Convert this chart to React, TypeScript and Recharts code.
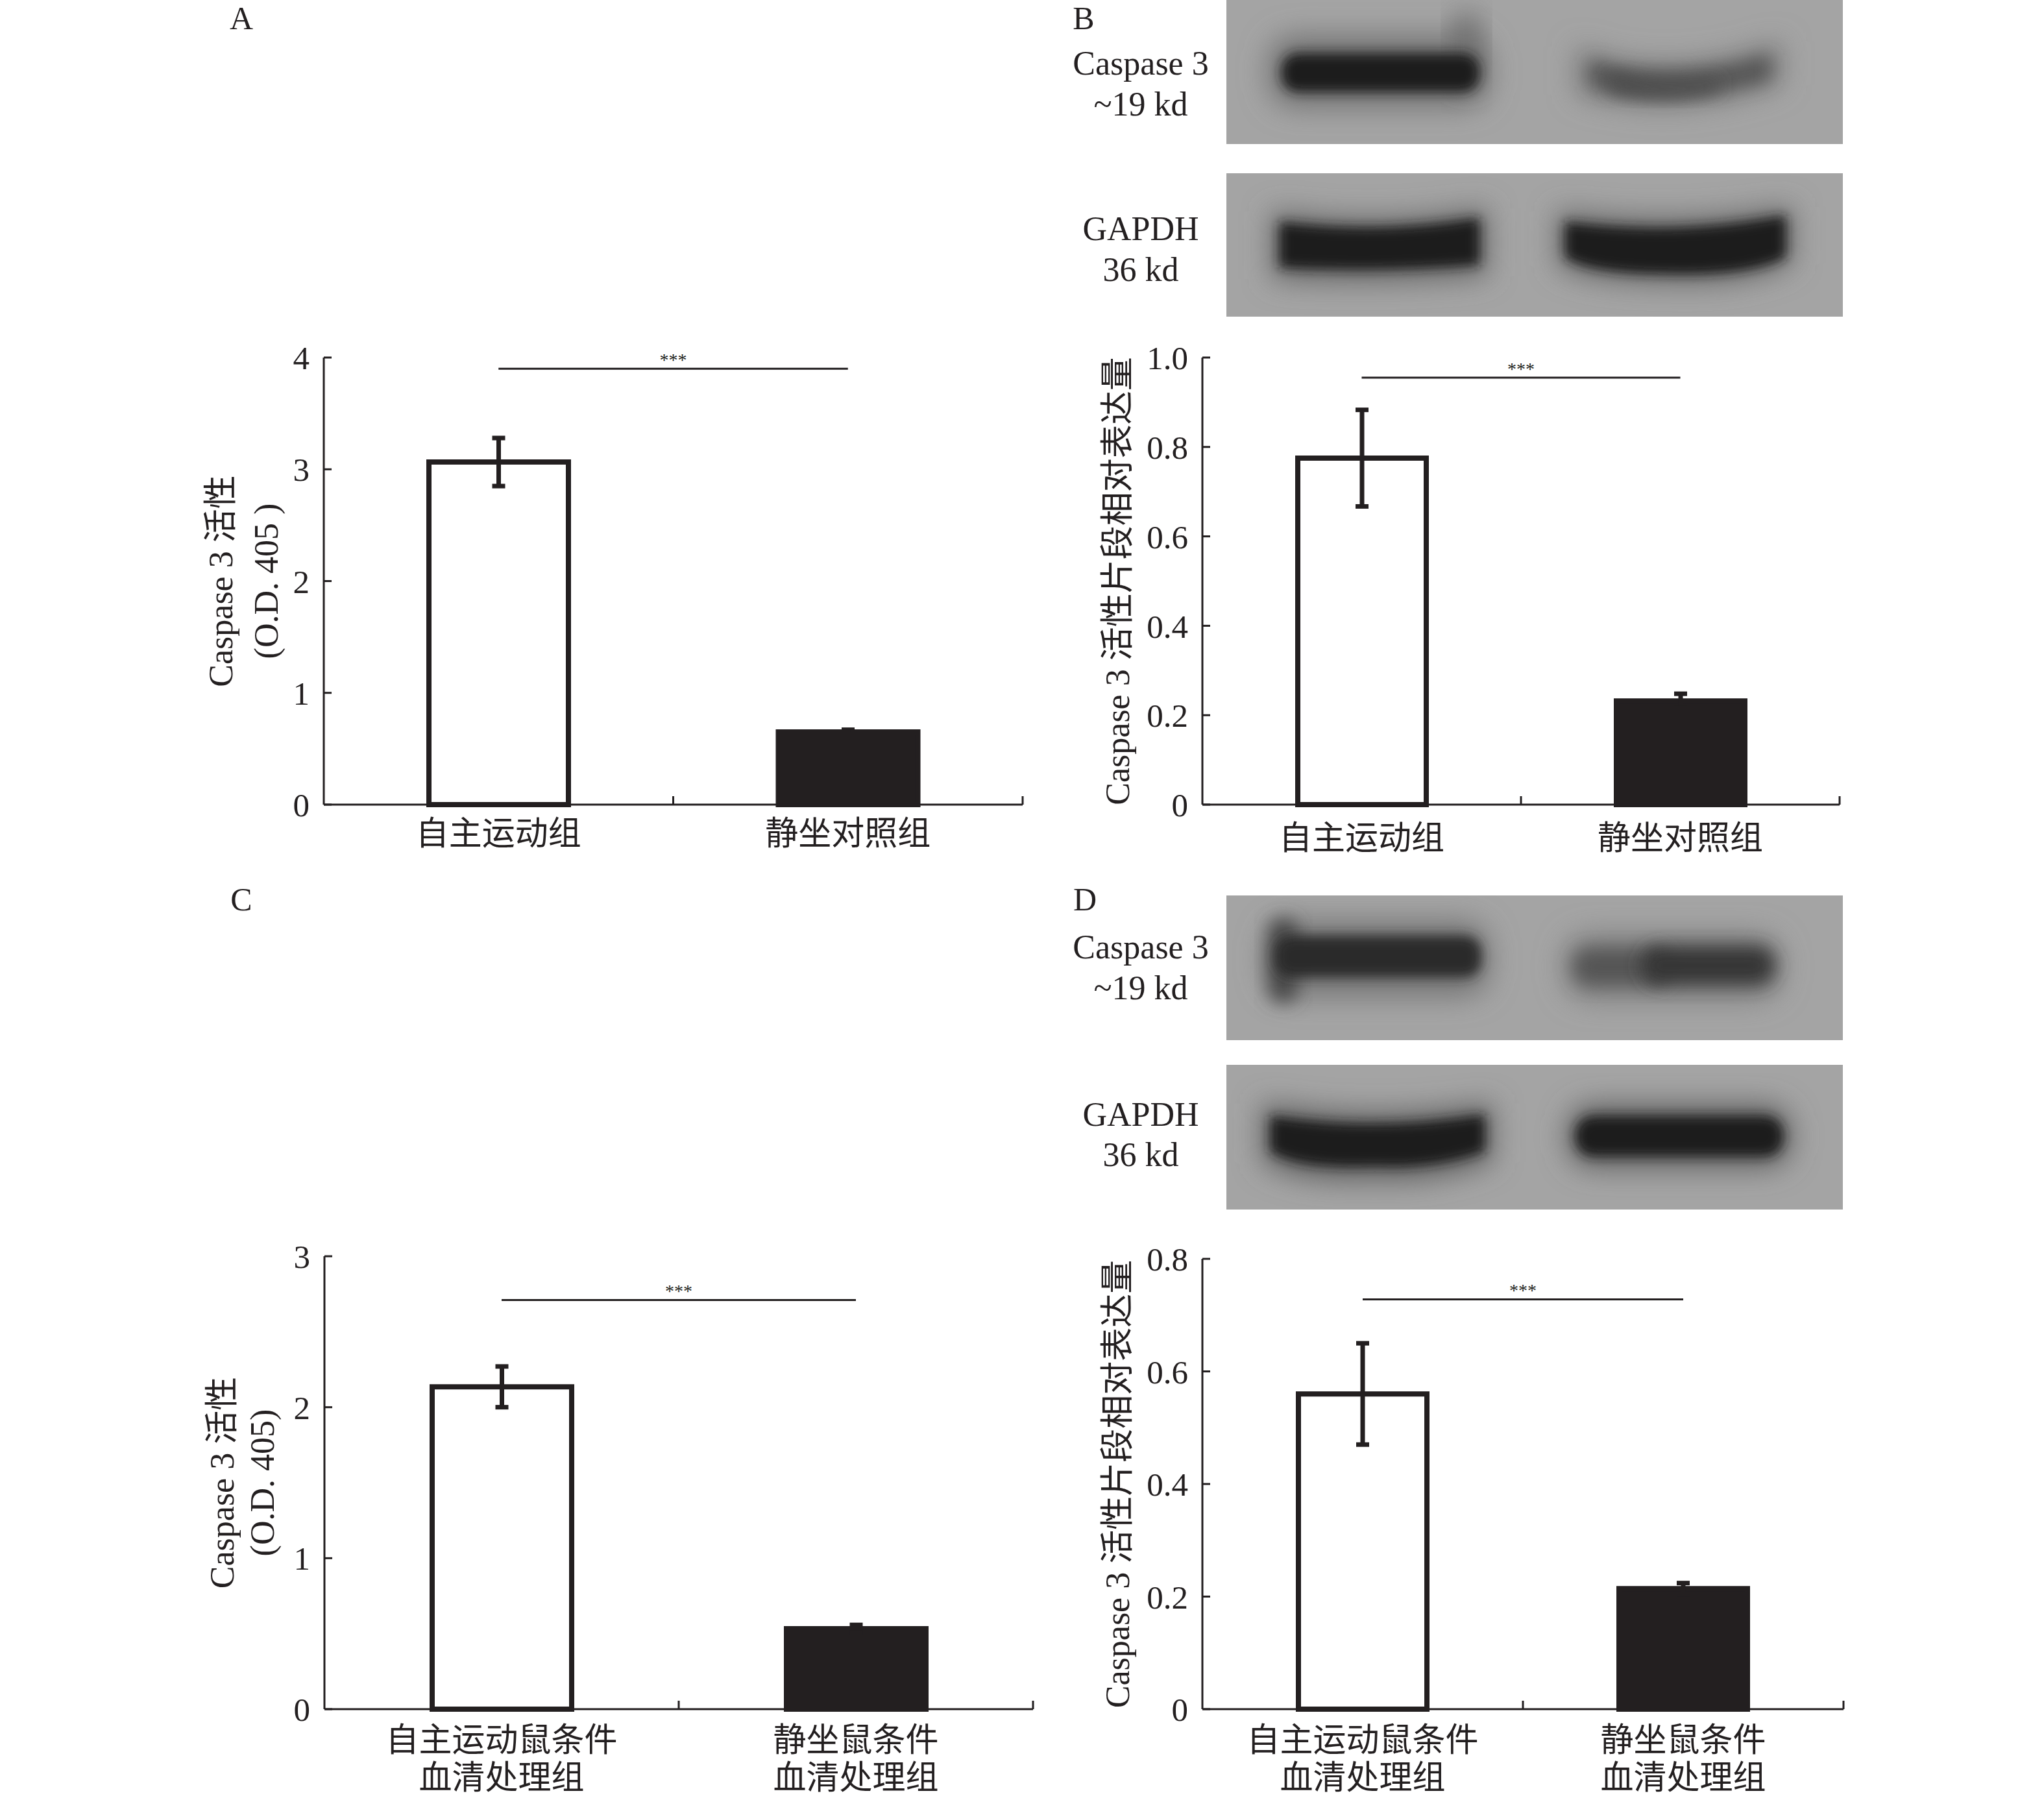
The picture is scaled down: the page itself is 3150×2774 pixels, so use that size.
import React from "react";
import { BarChart, Bar, XAxis, YAxis, ErrorBar, Cell, ReferenceLine } from "recharts";

const INK = "#231f20";
const SERIF = '"Liberation Serif", "Times New Roman", "Noto Sans CJK SC", serif';

// panel A: caspase 3 activity, exercise vs sedentary
const groupsA = ["自主运动组", "静坐对照组"];
const activityA = [3.065, 0.65];
const activityErrA = [0.215, 0.02];
const ticksA = [0, 1, 2, 3, 4];
const sigA = 3.9;

// panel B: western blot quantification
const groupsB = ["自主运动组", "静坐对照组"];
const expressionB = [0.775, 0.232];
const expressionErrB = [0.108, 0.016];
const ticksB = [0, 0.2, 0.4, 0.6, 0.8, 1.0];
const sigB = 0.955;

// panel C: serum-treated cells, activity
const groupsC = ["自主运动鼠条件\n血清处理组", "静坐鼠条件\n血清处理组"];
const activityC = [2.135, 0.533];
const activityErrC = [0.135, 0.025];
const ticksC = [0, 1, 2, 3];
const sigC = 2.71;

// panel D: serum-treated cells, blot quantification
const groupsD = ["自主运动鼠条件\n血清处理组", "静坐鼠条件\n血清处理组"];
const expressionD = [0.56, 0.214];
const expressionErrD = [0.09, 0.01];
const ticksD = [0, 0.2, 0.4, 0.6, 0.8];
const sigD = 0.728;

const barFills = ["#ffffff", INK];

const toRows = (groups: string[], values: number[], errs: number[]) =>
  groups.map((group, i) => ({ group, value: values[i], err: errs[i] }));

const intFmt = (v: number) => String(v);
const decFmt = (v: number) => (v === 0 ? "0" : v.toFixed(1));

function CategoryTick(props: any) {
  const { x, y, payload, dy } = props;
  const lines = String(payload.value).split("\n");
  const edge = payload.offset;
  return (
    <g>
      {edge ? (
        <line x1={x + edge} x2={x + edge} y1={y} y2={y - 13} stroke={INK} strokeWidth={3} />
      ) : null}
      {lines.map((l, i) => (
        <text
          key={i}
          x={x}
          y={y + dy + i * 58}
          textAnchor="middle"
          dominantBaseline="central"
          fontSize={51}
          fontFamily={SERIF}
          fill={INK}
        >
          {l}
        </text>
      ))}
    </g>
  );
}

function AxisTitle(props: any) {
  const { viewBox, lines, xs } = props;
  if (!viewBox) return null;
  const axisX = viewBox.x + viewBox.width;
  const cy = viewBox.y + viewBox.height / 2;
  return (
    <g>
      {lines.map((l: string, i: number) => {
        const cx = axisX + xs[i];
        return (
          <text
            key={i}
            x={cx}
            y={cy}
            transform={`rotate(-90 ${cx} ${cy})`}
            textAnchor="middle"
            dominantBaseline="central"
            fontSize={52}
            fontFamily={SERIF}
            fill={INK}
          >
            {l}
          </text>
        );
      })}
    </g>
  );
}

interface PanelProps {
  rows: { group: string; value: number; err: number }[];
  ticks: number[];
  fmt: (v: number) => string;
  sig: number;
  yLabel: string[];
  labelX: number[];
  plot: { left: number; top: number; right: number; bottom: number };
  barSize: number;
  labelDy: number;
}

function Panel({ rows, ticks, fmt, sig, yLabel, labelX, plot, barSize, labelDy }: PanelProps) {
  const axisW = 200;
  const mTop = 60;
  const mRight = 40;
  const xH = 160;
  const width = plot.right - plot.left + axisW + mRight;
  const height = plot.bottom - plot.top + mTop + xH;
  return (
    <div style={{ position: "absolute", left: plot.left - axisW, top: plot.top - mTop }}>
      <BarChart
        width={width}
        height={height}
        data={rows}
        barSize={barSize}
        margin={{ top: mTop, right: mRight, bottom: 0, left: 0 }}
      >
        <XAxis
          dataKey="group"
          height={xH}
          interval={0}
          axisLine={{ stroke: INK, strokeWidth: 3 }}
          tickLine={false}
          tickSize={0}
          tickMargin={0}
          tick={<CategoryTick dy={labelDy} />}
        />
        <YAxis
          width={axisW}
          domain={[ticks[0], ticks[ticks.length - 1]]}
          ticks={ticks}
          interval={0}
          tickFormatter={fmt}
          axisLine={{ stroke: INK, strokeWidth: 3 }}
          tickLine={{ stroke: INK, strokeWidth: 3 }}
          tickSize={-12}
          tickMargin={34}
          tick={{ fill: INK, fontSize: 51, fontFamily: SERIF }}
          label={<AxisTitle lines={yLabel} xs={labelX} />}
        />
        <ReferenceLine
          segment={[
            { x: rows[0].group, y: sig },
            { x: rows[1].group, y: sig },
          ]}
          stroke={INK}
          strokeWidth={3}
          label={{ value: "***", position: "top", offset: 4, fill: INK, fontSize: 28, fontFamily: SERIF }}
        />
        <Bar dataKey="value" isAnimationActive={false} strokeWidth={8}>
          {rows.map((r, i) => (
            <Cell key={r.group} fill={barFills[i]} stroke={INK} />
          ))}
          <ErrorBar dataKey="err" direction="y" width={10} strokeWidth={7} stroke={INK} />
        </Bar>
      </BarChart>
    </div>
  );
}

function Blots() {
  const gray = "#a4a4a4";
  return (
    <svg width={3150} height={2774} style={{ position: "absolute", left: 0, top: 0 }}>
      <defs>
        <filter id="bs" x="-50%" y="-50%" width="200%" height="200%">
          <feGaussianBlur stdDeviation="9" />
        </filter>
        <filter id="bm" x="-50%" y="-50%" width="200%" height="200%">
          <feGaussianBlur stdDeviation="14" />
        </filter>
        <filter id="bl" x="-50%" y="-50%" width="200%" height="200%">
          <feGaussianBlur stdDeviation="22" />
        </filter>
        <clipPath id="c1"><rect x={1890} y={0} width={950} height={222} /></clipPath>
        <clipPath id="c2"><rect x={1890} y={267} width={950} height={221} /></clipPath>
        <clipPath id="c3"><rect x={1890} y={1380} width={950} height={223} /></clipPath>
        <clipPath id="c4"><rect x={1890} y={1641} width={950} height={223} /></clipPath>
      </defs>

      {/* B, caspase 3 */}
      <g clipPath="url(#c1)">
        <rect x={1890} y={0} width={950} height={222} fill={gray} />
        <rect x={1955} y={55} width={340} height={110} rx={40} fill="#737373" filter="url(#bl)" />
        <rect x={2240} y={20} width={40} height={110} rx={18} fill="#6a6a6a" filter="url(#bl)" />
        <rect x={1975} y={82} width={305} height={60} rx={26} fill="#1f1f1f" filter="url(#bs)" />
        <path d="M2430,70 C2500,110 2650,105 2745,62 L2745,130 C2650,160 2560,180 2430,145 Z" fill="#7c7c7c" filter="url(#bl)" />
        <path d="M2450,92 C2510,120 2640,116 2728,84 L2728,122 C2640,145 2560,162 2450,132 Z" fill="#525252" filter="url(#bm)" />
        <path d="M2480,112 C2530,130 2600,132 2650,122 L2650,138 C2600,150 2540,152 2480,140 Z" fill="#484848" filter="url(#bm)" />
      </g>

      {/* B, GAPDH */}
      <g clipPath="url(#c2)">
        <rect x={1890} y={267} width={950} height={221} fill={gray} />
        <path d="M1960,325 Q2125,350 2292,320 L2292,425 Q2125,440 1960,430 Z" fill="#686868" filter="url(#bl)" />
        <path d="M1972,342 Q2125,362 2280,336 L2280,408 Q2125,420 1972,412 Z" fill="#1c1c1c" filter="url(#bs)" />
        <path d="M2400,325 Q2580,350 2762,318 L2762,405 Q2700,440 2580,436 Q2440,436 2400,408 Z" fill="#686868" filter="url(#bl)" />
        <path d="M2412,342 Q2580,365 2752,332 L2752,396 Q2700,424 2580,422 Q2450,422 2412,396 Z" fill="#1c1c1c" filter="url(#bs)" />
      </g>

      {/* D, caspase 3 */}
      <g clipPath="url(#c3)">
        <rect x={1890} y={1380} width={950} height={223} fill={gray} />
        <rect x={1950} y={1420} width={345} height={115} rx={40} fill="#757575" filter="url(#bl)" />
        <rect x={1955} y={1415} width={45} height={130} rx={20} fill="#4a4a4a" filter="url(#bm)" />
        <rect x={1965} y={1442} width={318} height={64} rx={26} fill="#2a2a2a" filter="url(#bs)" />
        <rect x={2410} y={1440} width={335} height={100} rx={40} fill="#7e7e7e" filter="url(#bl)" />
        <rect x={2425} y={1462} width={150} height={56} rx={24} fill="#555555" filter="url(#bm)" />
        <rect x={2530} y={1458} width={205} height={60} rx={26} fill="#363636" filter="url(#bm)" />
      </g>

      {/* D, GAPDH */}
      <g clipPath="url(#c4)">
        <rect x={1890} y={1641} width={950} height={223} fill={gray} />
        <path d="M1945,1700 Q2120,1730 2300,1700 L2300,1790 Q2210,1825 2120,1818 Q2000,1825 1945,1790 Z" fill="#626262" filter="url(#bl)" />
        <path d="M1958,1720 Q2120,1745 2288,1718 L2288,1774 Q2210,1802 2120,1797 Q2000,1802 1958,1774 Z" fill="#1b1b1b" filter="url(#bs)" />
        <rect x={2415} y={1702} width={346} height={98} rx={40} fill="#626262" filter="url(#bl)" />
        <rect x={2428} y={1720} width={320} height={62} rx={28} fill="#1b1b1b" filter="url(#bs)" />
      </g>

      <g fontFamily={SERIF} fontSize={52} fill={INK} textAnchor="middle" dominantBaseline="central">
        <text x={1758} y={97}>Caspase 3</text>
        <text x={1758} y={160}>~19 kd</text>
        <text x={1758} y={352}>GAPDH</text>
        <text x={1758} y={415}>36 kd</text>
        <text x={1758} y={1459}>Caspase 3</text>
        <text x={1758} y={1522}>~19 kd</text>
        <text x={1758} y={1717}>GAPDH</text>
        <text x={1758} y={1779}>36 kd</text>
      </g>
      <g fontFamily={SERIF} fontSize={50} fill={INK} textAnchor="middle" dominantBaseline="central">
        <text x={372} y={28}>A</text>
        <text x={1670} y={28}>B</text>
        <text x={372} y={1386}>C</text>
        <text x={1672} y={1386}>D</text>
      </g>
    </svg>
  );
}

export default function App() {
  return (
    <div style={{ position: "absolute", left: 0, top: 0, width: 3150, height: 2774, background: "#fff" }}>
      <Blots />
      <Panel
        rows={toRows(groupsA, activityA, activityErrA)}
        ticks={ticksA}
        fmt={intFmt}
        sig={sigA}
        yLabel={["Caspase 3 活性", "(O.D. 405 )"]}
        labelX={[-159, -89]}
        plot={{ left: 499, top: 551, right: 1576, bottom: 1240 }}
        barSize={215}
        labelDy={45}
      />
      <Panel
        rows={toRows(groupsB, expressionB, expressionErrB)}
        ticks={ticksB}
        fmt={decFmt}
        sig={sigB}
        yLabel={["Caspase 3 活性片段相对表达量"]}
        labelX={[-131]}
        plot={{ left: 1853, top: 551, right: 2835, bottom: 1240 }}
        barSize={198}
        labelDy={52}
      />
      <Panel
        rows={toRows(groupsC, activityC, activityErrC)}
        ticks={ticksC}
        fmt={intFmt}
        sig={sigC}
        yLabel={["Caspase 3 活性", "(O.D. 405)"]}
        labelX={[-158, -96]}
        plot={{ left: 500, top: 1936, right: 1592, bottom: 2634 }}
        barSize={215}
        labelDy={48}
      />
      <Panel
        rows={toRows(groupsD, expressionD, expressionErrD)}
        ticks={ticksD}
        fmt={decFmt}
        sig={sigD}
        yLabel={["Caspase 3 活性片段相对表达量"]}
        labelX={[-131]}
        plot={{ left: 1853, top: 1940, right: 2841, bottom: 2634 }}
        barSize={198}
        labelDy={48}
      />
    </div>
  );
}
